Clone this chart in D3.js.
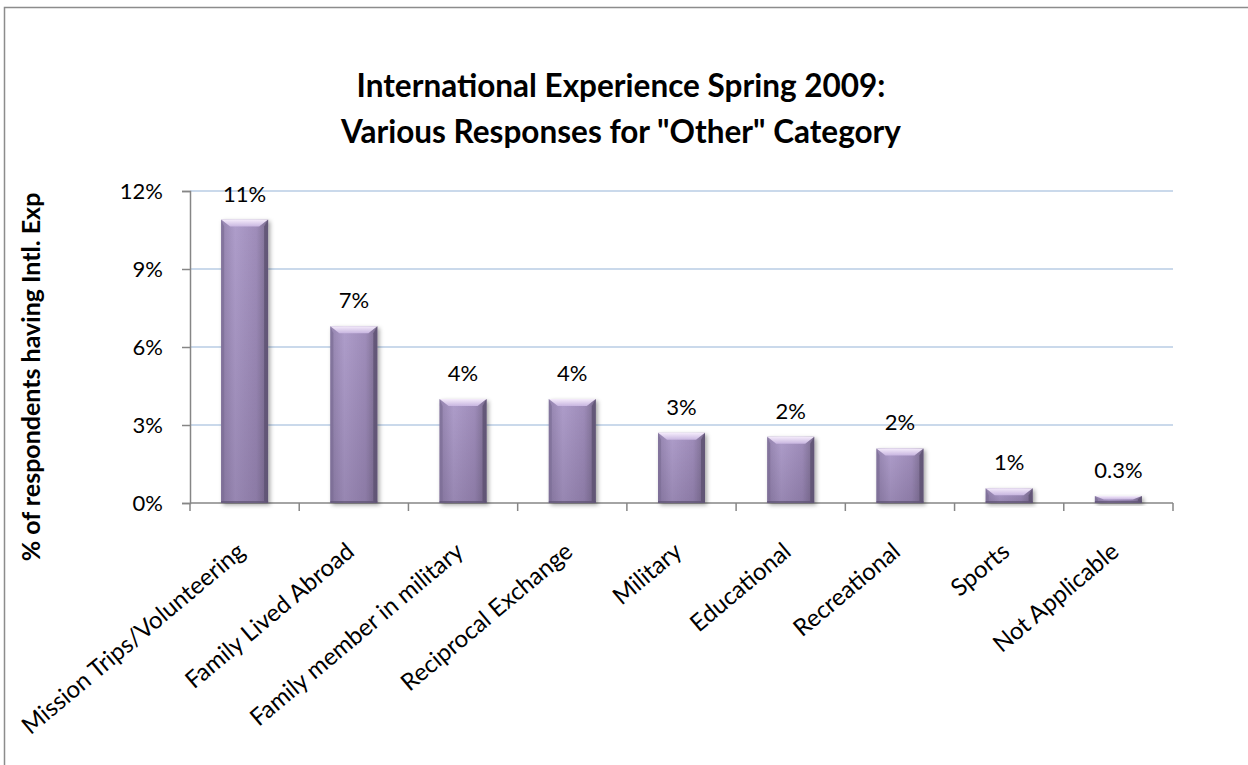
<!DOCTYPE html>
<html>
<head>
<meta charset="utf-8">
<script src="https://cdn.jsdelivr.net/npm/d3@7"></script>
<style>
  body { margin: 0; background: #fff; }
  text { font-family: Lato, "Open Sans", sans-serif; fill: #000; }
</style>
</head>
<body>
<svg width="1248" height="765"></svg>
<script>
// chart data
var categories = ["Mission Trips/Volunteering", "Family Lived Abroad", "Family member in military",
  "Reciprocal Exchange", "Military", "Educational", "Recreational", "Sports", "Not Applicable"];
var values = [10.9, 6.8, 4.0, 4.0, 2.7, 2.55, 2.1, 0.57, 0.27];
var valueLabels = ["11%", "7%", "4%", "4%", "3%", "2%", "2%", "1%", "0.3%"];
var yTicks = [0, 3, 6, 9, 12];
var titleLines = ["International Experience Spring 2009:", "Various Responses for \"Other\" Category"];
var yTitle = "% of respondents having Intl. Exp";

var svg = d3.select("svg"),
	width = +svg.attr("width"),
	height = +svg.attr("height");

var plot = { left: 190, right: 1173, top: 191, bottom: 503 };

var x = d3.scaleBand()
	.domain(categories)
	.range([plot.left, plot.right])
	.paddingInner(0.57)
	.paddingOuter(0.285);

var xTicks = d3.scaleBand().domain(categories).range([plot.left, plot.right]);

var y = d3.scaleLinear()
	.domain([0, 12])
	.range([plot.bottom, plot.top]);

// outer frame (only left/top visible in the crop)
svg.append("rect")
	.attr("x", 4.5).attr("y", 7.5)
	.attr("width", width + 20).attr("height", height + 20)
	.attr("fill", "none")
	.attr("stroke", "#8c8c8c")
	.attr("stroke-width", 1.5);

var defs = svg.append("defs");

var side = defs.append("linearGradient").attr("id", "barSide")
	.attr("x1", "0").attr("x2", "1").attr("y1", "0").attr("y2", "0");
side.append("stop").attr("offset", "0").attr("stop-color", "#9484ae");
side.append("stop").attr("offset", "0.3").attr("stop-color", "#ae9dca");
side.append("stop").attr("offset", "0.75").attr("stop-color", "#9f8dba");
side.append("stop").attr("offset", "1").attr("stop-color", "#7a6c8e");

var shade = defs.append("linearGradient").attr("id", "barShade")
	.attr("x1", "0").attr("x2", "0").attr("y1", "0").attr("y2", "1");
shade.append("stop").attr("offset", "0").attr("stop-color", "#3c2d50").attr("stop-opacity", 0);
shade.append("stop").attr("offset", "1").attr("stop-color", "#3c2d50").attr("stop-opacity", 0.2);

var topG = defs.append("linearGradient").attr("id", "barTop")
	.attr("x1", "0").attr("x2", "0").attr("y1", "0").attr("y2", "1");
topG.append("stop").attr("offset", "0").attr("stop-color", "#f5ecfb");
topG.append("stop").attr("offset", "1").attr("stop-color", "#c8b6e0");

var shadow = defs.append("filter").attr("id", "shadow")
	.attr("x", "-20%").attr("y", "-20%").attr("width", "150%").attr("height", "150%");
shadow.append("feDropShadow")
	.attr("dx", 2).attr("dy", 2).attr("stdDeviation", 2)
	.attr("flood-color", "#000").attr("flood-opacity", 0.35);

// gridlines
svg.append("g")
	.selectAll("line")
	.data(yTicks.slice(1))
	.enter()
	.append("line")
	.attr("x1", plot.left).attr("x2", plot.right)
	.attr("y1", function (d) { return y(d); })
	.attr("y2", function (d) { return y(d); })
	.attr("stroke", "#b9cde5")
	.attr("stroke-width", 1.5);

// y axis
var yAxis = svg.append("g")
	.attr("transform", "translate(" + plot.left + ",0)")
	.call(d3.axisLeft(y).tickValues(yTicks).tickSize(8).tickPadding(19)
		.tickFormat(function (d) { return d + "%"; }));
yAxis.selectAll("line, path").attr("stroke", "#868686").attr("stroke-width", 1.5);
yAxis.selectAll("text").style("font-size", "22px").attr("fill", "#000");

// x axis
var xAxis = svg.append("g")
	.attr("transform", "translate(0," + plot.bottom + ")");
xAxis.append("line")
	.attr("x1", plot.left).attr("x2", plot.right)
	.attr("stroke", "#868686").attr("stroke-width", 1.5);
xAxis.selectAll(".tick")
	.data(categories.concat(["end"]))
	.enter()
	.append("line")
	.attr("x1", function (d, i) { return i < categories.length ? xTicks(d) : plot.right; })
	.attr("x2", function (d, i) { return i < categories.length ? xTicks(d) : plot.right; })
	.attr("y1", 0).attr("y2", 8)
	.attr("stroke", "#868686").attr("stroke-width", 1.5);

xAxis.selectAll(".xlab")
	.data(categories)
	.enter()
	.append("text")
	.attr("class", "xlab")
	.attr("text-anchor", "end")
	.attr("transform", function (d) {
		return "translate(" + (x(d) + x.bandwidth() / 2 + 2) + ",51) rotate(-40)";
	})
	.style("font-size", "24px")
	.text(function (d) { return d; });

// bars
var bars = svg.append("g")
	.selectAll("g")
	.data(values)
	.enter()
	.append("g")
	.attr("filter", "url(#shadow)");

bars.each(function (d, i) {
	var g = d3.select(this);
	var bx = x(categories[i]), bw = x.bandwidth();
	var by = y(d), bh = plot.bottom - by;
	var b = Math.min(7, bh / 2);
	g.append("rect").attr("x", bx).attr("y", by).attr("width", bw).attr("height", bh)
		.attr("fill", "url(#barSide)");
	g.append("rect").attr("x", bx).attr("y", by).attr("width", bw).attr("height", bh)
		.attr("fill", "url(#barShade)");
	// right edge
	g.append("polygon")
		.attr("points", [[bx + bw, by], [bx + bw, by + bh], [bx + bw - 4, by + bh - 2], [bx + bw - 4, by + b]].join(" "))
		.attr("fill", "#5e5272").attr("opacity", 0.8);
	// left edge
	g.append("polygon")
		.attr("points", [[bx, by], [bx, by + bh], [bx + 3, by + bh - 2], [bx + 3, by + b]].join(" "))
		.attr("fill", "#7c6d95").attr("opacity", 0.7);
	// bottom edge
	g.append("rect").attr("x", bx).attr("y", by + bh - 2).attr("width", bw).attr("height", 2)
		.attr("fill", "#5e5272").attr("opacity", 0.7);
	// top bevel
	g.append("polygon")
		.attr("points", [[bx, by], [bx + bw, by], [bx + bw - 9, by + b], [bx + 9, by + b]].join(" "))
		.attr("fill", "url(#barTop)");
});

// value labels
svg.append("g")
	.selectAll("text")
	.data(values)
	.enter()
	.append("text")
	.attr("x", function (d, i) { return x(categories[i]) + x.bandwidth() / 2; })
	.attr("y", function (d) { return y(d) - 18; })
	.attr("text-anchor", "middle")
	.style("font-size", "22px")
	.text(function (d, i) { return valueLabels[i]; });

// title
svg.append("g")
	.selectAll("text")
	.data(titleLines)
	.enter()
	.append("text")
	.attr("x", 621)
	.attr("y", function (d, i) { return 97 + i * 46; })
	.attr("text-anchor", "middle")
	.style("font-size", "31.5px")
	.style("font-weight", "bold")
	.text(function (d) { return d; });

// y axis title
svg.append("text")
	.attr("transform", "translate(40,377) rotate(-90)")
	.attr("text-anchor", "middle")
	.style("font-size", "25px")
	.style("font-weight", "bold")
	.text(yTitle);
</script>
</body>
</html>
